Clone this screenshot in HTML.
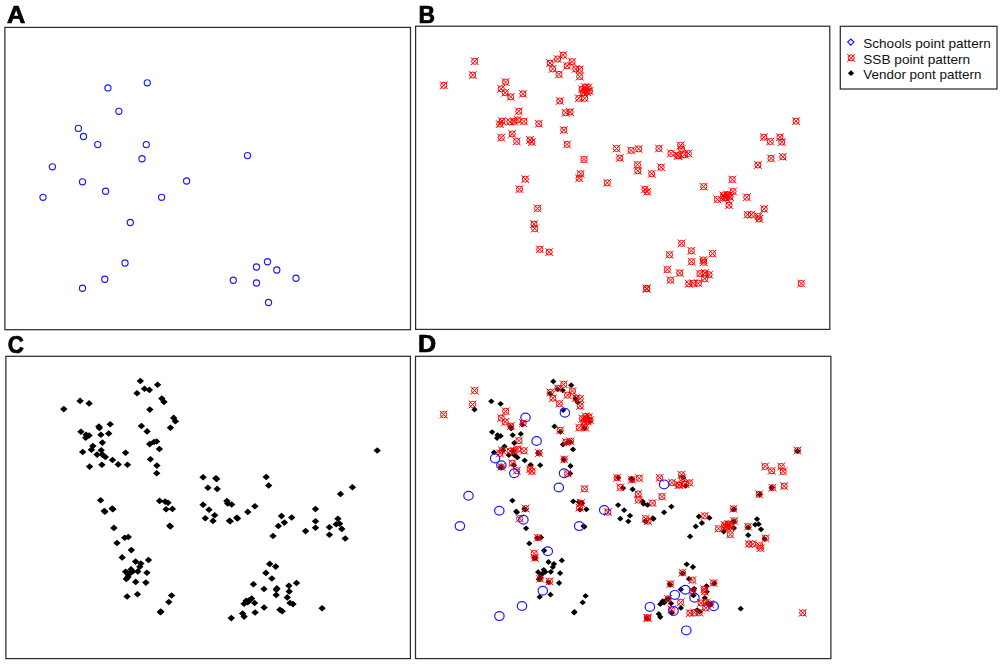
<!DOCTYPE html>
<html><head><meta charset="utf-8"><title>Point patterns</title>
<style>html,body{margin:0;padding:0;background:#fff;width:1000px;height:664px;overflow:hidden}svg{display:block}</style>
</head><body>
<svg width="1000" height="664" viewBox="0 0 1000 664">
<defs>
<g id="cs"><circle r="3.1" fill="none" stroke="#1a1aff" stroke-width="1.15"/></g>
<g id="cb"><ellipse rx="4.7" ry="4.4" fill="none" stroke="#1a1aff" stroke-width="1.2"/></g>
<g id="rx" fill="none" stroke="#ff0000" stroke-width="1"><circle r="3.05"/><path d="M-3.9-3.9L3.9 3.9M-3.9 3.9L3.9-3.9"/></g>
<path id="bd" d="M0-3.3L3.7 0L0 3.3L-3.7 0Z" fill="#000"/>
<path id="bd2" d="M0-2.9L3.15 0L0 2.9L-3.15 0Z" fill="#000"/>
</defs>
<rect width="1000" height="664" fill="#fff"/>
<g fill="none" stroke="#2e2e2e" stroke-width="1.25">
<rect x="4.9" y="27.4" width="405.6" height="302.3"/>
<rect x="415.6" y="26.2" width="414.2" height="303.2"/>
<rect x="5.9" y="356.3" width="404.5" height="302.3"/>
<rect x="415.5" y="356.3" width="415.4" height="302.3"/>
<rect x="840.3" y="26.3" width="156.7" height="62.7"/>
</g>
<g font-family="Liberation Sans, sans-serif" font-weight="bold" font-size="23.5px" fill="#000" stroke="#000" stroke-width="0.7" style="will-change:transform">
<text transform="translate(7.1 22.6) scale(1.08 1)">A</text><text transform="translate(418.4 22.6) scale(0.975 1)">B</text><text transform="translate(7.7 352.7) scale(0.95 1.04)">C</text><text transform="translate(418.1 352.4) scale(1.07 1)">D</text>
</g>
<g font-family="Liberation Sans, sans-serif" font-size="13.3px" fill="#111">
<text x="863.2" y="48.3" textLength="127.6" lengthAdjust="spacingAndGlyphs">Schools point pattern</text>
<text x="863.2" y="63.6" textLength="107" lengthAdjust="spacingAndGlyphs">SSB point pattern</text>
<text x="863.2" y="79.3" textLength="118.3" lengthAdjust="spacingAndGlyphs">Vendor pont pattern</text>
</g>
<path d="M850.8 39L853.9 42.1L850.8 45.2L847.7 42.1Z" fill="none" stroke="#1010ff" stroke-width="1.1"/>
<use href="#rx" x="851.2" y="57.9"/>
<use href="#bd2" x="851" y="73.2"/>
<g><use href="#cs" x="107.9" y="87.9"/><use href="#cs" x="147.3" y="82.8"/><use href="#cs" x="118.9" y="111.3"/><use href="#cs" x="78.4" y="128.4"/><use href="#cs" x="83.5" y="136.5"/><use href="#cs" x="97.7" y="144.6"/><use href="#cs" x="146.3" y="144.6"/><use href="#cs" x="142" y="158.7"/><use href="#cs" x="52.4" y="166.8"/><use href="#cs" x="82.5" y="181.8"/><use href="#cs" x="105.6" y="191.2"/><use href="#cs" x="186.6" y="181"/><use href="#cs" x="43" y="197.3"/><use href="#cs" x="161.6" y="197.3"/><use href="#cs" x="130.3" y="222.5"/><use href="#cs" x="125" y="263"/><use href="#cs" x="104.8" y="279.3"/><use href="#cs" x="82.5" y="288.3"/><use href="#cs" x="233.3" y="280.3"/><use href="#cs" x="256.5" y="267"/><use href="#cs" x="267.5" y="261.8"/><use href="#cs" x="276.8" y="270"/><use href="#cs" x="296" y="278.3"/><use href="#cs" x="256.5" y="283"/><use href="#cs" x="268.5" y="302.5"/><use href="#cs" x="247.5" y="155.6"/></g>
<g><use href="#rx" x="474.7" y="61.3"/><use href="#rx" x="472.7" y="75.1"/><use href="#rx" x="443.8" y="85.3"/><use href="#rx" x="505.6" y="82"/><use href="#rx" x="501.2" y="88.8"/><use href="#rx" x="505.2" y="92.7"/><use href="#rx" x="510.7" y="96.8"/><use href="#rx" x="522.9" y="93.8"/><use href="#rx" x="518.8" y="111.3"/><use href="#rx" x="499.8" y="124.1"/><use href="#rx" x="502" y="121.1"/><use href="#rx" x="509.9" y="121.8"/><use href="#rx" x="514.1" y="121.4"/><use href="#rx" x="517.5" y="119.9"/><use href="#rx" x="523.9" y="121.4"/><use href="#rx" x="538.8" y="123.7"/><use href="#rx" x="501.3" y="137.6"/><use href="#rx" x="512.2" y="133.9"/><use href="#rx" x="516.7" y="141.4"/><use href="#rx" x="529.9" y="139.9"/><use href="#rx" x="531.8" y="142.1"/><use href="#rx" x="563.3" y="55.1"/><use href="#rx" x="557.6" y="59"/><use href="#rx" x="550.1" y="63.1"/><use href="#rx" x="552.6" y="68.9"/><use href="#rx" x="559" y="74.4"/><use href="#rx" x="567.1" y="65.8"/><use href="#rx" x="572.1" y="61.7"/><use href="#rx" x="575.7" y="68.9"/><use href="#rx" x="579.7" y="69.4"/><use href="#rx" x="579.7" y="76.6"/><use href="#rx" x="585.2" y="87"/><use href="#rx" x="588.3" y="87.5"/><use href="#rx" x="582" y="89.3"/><use href="#rx" x="583.4" y="92.9"/><use href="#rx" x="587" y="92"/><use href="#rx" x="578.8" y="98.3"/><use href="#rx" x="584.7" y="98.3"/><use href="#rx" x="559.8" y="101"/><use href="#rx" x="565.6" y="112.8"/><use href="#rx" x="570.1" y="112"/><use href="#rx" x="563.8" y="130.1"/><use href="#rx" x="567.1" y="144.4"/><use href="#rx" x="584" y="159.5"/><use href="#rx" x="580.6" y="173.8"/><use href="#rx" x="579.1" y="178.3"/><use href="#rx" x="607.3" y="182.8"/><use href="#rx" x="616.5" y="148.5"/><use href="#rx" x="619.8" y="158"/><use href="#rx" x="631.1" y="150.4"/><use href="#rx" x="638.6" y="148.9"/><use href="#rx" x="637.5" y="164.7"/><use href="#rx" x="637.8" y="170.8"/><use href="#rx" x="651.7" y="173.8"/><use href="#rx" x="661.2" y="167.3"/><use href="#rx" x="658.9" y="148.5"/><use href="#rx" x="671" y="153.4"/><use href="#rx" x="677.7" y="155.7"/><use href="#rx" x="680.6" y="145.4"/><use href="#rx" x="678.6" y="155.8"/><use href="#rx" x="684.5" y="154.8"/><use href="#rx" x="688.4" y="153.5"/><use href="#rx" x="681.5" y="149"/><use href="#rx" x="644.9" y="189.4"/><use href="#rx" x="647.3" y="191.8"/><use href="#rx" x="796.1" y="121.2"/><use href="#rx" x="763.8" y="137.2"/><use href="#rx" x="770.3" y="141.5"/><use href="#rx" x="779.9" y="137.2"/><use href="#rx" x="781.8" y="142.1"/><use href="#rx" x="782.8" y="156.8"/><use href="#rx" x="771" y="158.4"/><use href="#rx" x="757.9" y="165"/><use href="#rx" x="732.3" y="179.5"/><use href="#rx" x="703.7" y="186.6"/><use href="#rx" x="733.1" y="191.5"/><use href="#rx" x="723.5" y="195.5"/><use href="#rx" x="727" y="194.5"/><use href="#rx" x="726" y="198"/><use href="#rx" x="730" y="197"/><use href="#rx" x="717.4" y="199.4"/><use href="#rx" x="729" y="205.2"/><use href="#rx" x="746.8" y="197.3"/><use href="#rx" x="747.6" y="214.7"/><use href="#rx" x="751.4" y="214.7"/><use href="#rx" x="758.4" y="216.4"/><use href="#rx" x="759.2" y="218.9"/><use href="#rx" x="764.2" y="208.9"/><use href="#rx" x="525.3" y="179.2"/><use href="#rx" x="519.5" y="189.2"/><use href="#rx" x="537.6" y="208.4"/><use href="#rx" x="534" y="224.1"/><use href="#rx" x="534.7" y="228.6"/><use href="#rx" x="539.8" y="249.4"/><use href="#rx" x="549.2" y="252.1"/><use href="#rx" x="681.6" y="243.4"/><use href="#rx" x="691.4" y="250.8"/><use href="#rx" x="669.5" y="254.7"/><use href="#rx" x="712.5" y="253.6"/><use href="#rx" x="691.6" y="261.7"/><use href="#rx" x="703.4" y="260"/><use href="#rx" x="703.7" y="262.3"/><use href="#rx" x="667.3" y="269.6"/><use href="#rx" x="679.7" y="273"/><use href="#rx" x="670.5" y="280.1"/><use href="#rx" x="700" y="273.6"/><use href="#rx" x="705.1" y="273"/><use href="#rx" x="709.1" y="274.7"/><use href="#rx" x="704.6" y="278.7"/><use href="#rx" x="688.8" y="283.8"/><use href="#rx" x="693.3" y="283.2"/><use href="#rx" x="698.4" y="283.2"/><use href="#rx" x="646.4" y="288.3"/><use href="#rx" x="801.2" y="283.5"/><use href="#rx" x="585.5" y="90"/><use href="#rx" x="589.5" y="91"/><use href="#rx" x="646.9" y="288.9"/><use href="#rx" x="724.5" y="197.5"/><use href="#rx" x="728.5" y="195.5"/></g>
<g><use href="#bd" x="63.8" y="409.1"/><use href="#bd" x="80.1" y="400.9"/><use href="#bd" x="89.1" y="403.4"/><use href="#bd" x="140.3" y="381"/><use href="#bd" x="157.6" y="384.8"/><use href="#bd" x="144.5" y="388.8"/><use href="#bd" x="149.4" y="389.9"/><use href="#bd" x="137" y="393.3"/><use href="#bd" x="161.8" y="398.6"/><use href="#bd" x="164" y="401.9"/><use href="#bd" x="149.8" y="409.6"/><use href="#bd" x="173.7" y="417.9"/><use href="#bd" x="175.4" y="421.2"/><use href="#bd" x="170.4" y="427.7"/><use href="#bd" x="141.4" y="426"/><use href="#bd" x="147.1" y="431.4"/><use href="#bd" x="153.9" y="442"/><use href="#bd" x="149.7" y="444.1"/><use href="#bd" x="156.6" y="441.5"/><use href="#bd" x="159.4" y="449"/><use href="#bd" x="150.4" y="459.3"/><use href="#bd" x="156.9" y="465.6"/><use href="#bd" x="156.7" y="473.2"/><use href="#bd" x="110.2" y="424.2"/><use href="#bd" x="98.9" y="426.5"/><use href="#bd" x="99.4" y="428"/><use href="#bd" x="80.9" y="431.7"/><use href="#bd" x="86.1" y="434.7"/><use href="#bd" x="89.1" y="435.5"/><use href="#bd" x="85.7" y="437.7"/><use href="#bd" x="100.9" y="434.7"/><use href="#bd" x="108.7" y="433.5"/><use href="#bd" x="102.4" y="442.6"/><use href="#bd" x="92.9" y="446"/><use href="#bd" x="91.4" y="449.8"/><use href="#bd" x="82.7" y="452"/><use href="#bd" x="101.2" y="450.2"/><use href="#bd" x="97.1" y="454.6"/><use href="#bd" x="102.4" y="454.6"/><use href="#bd" x="105.4" y="457"/><use href="#bd" x="112.5" y="460"/><use href="#bd" x="118.2" y="464.4"/><use href="#bd" x="125.6" y="452.8"/><use href="#bd" x="127.5" y="464.8"/><use href="#bd" x="89.6" y="466.6"/><use href="#bd" x="101.9" y="464.8"/><use href="#bd" x="100.6" y="500.2"/><use href="#bd" x="104.3" y="511"/><use href="#bd" x="112.2" y="508.6"/><use href="#bd" x="113.9" y="527.9"/><use href="#bd" x="124.7" y="537.7"/><use href="#bd" x="128.3" y="537"/><use href="#bd" x="117" y="543"/><use href="#bd" x="131.3" y="550.1"/><use href="#bd" x="122.2" y="557.4"/><use href="#bd" x="148.5" y="560"/><use href="#bd" x="135.6" y="561.6"/><use href="#bd" x="140.8" y="563.6"/><use href="#bd" x="139.8" y="566.7"/><use href="#bd" x="137.8" y="571.4"/><use href="#bd" x="131" y="569.4"/><use href="#bd" x="125.6" y="571.8"/><use href="#bd" x="128.3" y="574.8"/><use href="#bd" x="126.3" y="578.9"/><use href="#bd" x="146.9" y="572.8"/><use href="#bd" x="135.7" y="581.9"/><use href="#bd" x="145.9" y="582.6"/><use href="#bd" x="127.1" y="596.5"/><use href="#bd" x="137.5" y="594.3"/><use href="#bd" x="171.6" y="595.5"/><use href="#bd" x="168.8" y="602"/><use href="#bd" x="160.8" y="611.6"/><use href="#bd" x="159.6" y="500.9"/><use href="#bd" x="165.1" y="501.6"/><use href="#bd" x="168" y="502.8"/><use href="#bd" x="166.1" y="509.3"/><use href="#bd" x="172.4" y="508.9"/><use href="#bd" x="169.7" y="525.7"/><use href="#bd" x="203.1" y="477.3"/><use href="#bd" x="215.8" y="478.2"/><use href="#bd" x="207.9" y="487.7"/><use href="#bd" x="217.2" y="488.9"/><use href="#bd" x="266.2" y="477"/><use href="#bd" x="268.7" y="485.5"/><use href="#bd" x="352.4" y="487.2"/><use href="#bd" x="340.5" y="494"/><use href="#bd" x="203.1" y="504.7"/><use href="#bd" x="209" y="509.8"/><use href="#bd" x="226.9" y="501.1"/><use href="#bd" x="227.7" y="503.4"/><use href="#bd" x="231.7" y="504.5"/><use href="#bd" x="214.7" y="515.3"/><use href="#bd" x="205.3" y="518.3"/><use href="#bd" x="213" y="520.9"/><use href="#bd" x="229.4" y="520.7"/><use href="#bd" x="236.8" y="517.8"/><use href="#bd" x="247.8" y="511.9"/><use href="#bd" x="254.9" y="506.2"/><use href="#bd" x="281.5" y="516.1"/><use href="#bd" x="291.7" y="517.5"/><use href="#bd" x="284.4" y="522.6"/><use href="#bd" x="278.4" y="526"/><use href="#bd" x="273" y="536"/><use href="#bd" x="315.5" y="509"/><use href="#bd" x="315.5" y="521.2"/><use href="#bd" x="315.5" y="527.7"/><use href="#bd" x="305.6" y="531.1"/><use href="#bd" x="329.4" y="527.2"/><use href="#bd" x="337.9" y="518.7"/><use href="#bd" x="336.2" y="524.3"/><use href="#bd" x="339.6" y="523.8"/><use href="#bd" x="341.8" y="528.9"/><use href="#bd" x="329.4" y="534.8"/><use href="#bd" x="345.2" y="538.5"/><use href="#bd" x="269.7" y="563.9"/><use href="#bd" x="275.7" y="566.6"/><use href="#bd" x="265.9" y="572.9"/><use href="#bd" x="271.9" y="578.5"/><use href="#bd" x="253.4" y="584.2"/><use href="#bd" x="264" y="589"/><use href="#bd" x="276.9" y="588.4"/><use href="#bd" x="276.2" y="595"/><use href="#bd" x="288.9" y="585.7"/><use href="#bd" x="296.5" y="583"/><use href="#bd" x="289.2" y="591.4"/><use href="#bd" x="287.3" y="597.4"/><use href="#bd" x="290" y="603"/><use href="#bd" x="293" y="604.1"/><use href="#bd" x="264.1" y="607.5"/><use href="#bd" x="279.9" y="609.8"/><use href="#bd" x="282.2" y="611.3"/><use href="#bd" x="322.1" y="608.3"/><use href="#bd" x="251.6" y="598.5"/><use href="#bd" x="246.3" y="600.8"/><use href="#bd" x="244.1" y="603.8"/><use href="#bd" x="254.6" y="603"/><use href="#bd" x="247.8" y="602.3"/><use href="#bd" x="255.1" y="612.5"/><use href="#bd" x="242.6" y="613.5"/><use href="#bd" x="244.1" y="616.6"/><use href="#bd" x="231.3" y="618.1"/><use href="#bd" x="377.2" y="450.5"/><use href="#bd" x="129.5" y="573.5"/><use href="#bd" x="132.5" y="571.5"/><use href="#bd" x="128" y="577"/><use href="#bd" x="249" y="600.5"/><use href="#bd" x="276.3" y="589.8"/><use href="#bd" x="216.6" y="478.9"/><use href="#bd" x="170.4" y="526.4"/><use href="#bd" x="160.4" y="612.2"/><use href="#bd" x="230.2" y="521.2"/><use href="#bd" x="237.5" y="518.4"/><use href="#bd" x="104.9" y="511.8"/><use href="#bd" x="112.9" y="509.2"/></g>
<g><use href="#bd2" x="474.5" y="409.5"/><use href="#bd2" x="491.3" y="401.3"/><use href="#bd2" x="500.6" y="403.8"/><use href="#bd2" x="553.3" y="381.4"/><use href="#bd2" x="571.2" y="385.2"/><use href="#bd2" x="557.7" y="389.2"/><use href="#bd2" x="562.7" y="390.3"/><use href="#bd2" x="549.9" y="393.7"/><use href="#bd2" x="575.5" y="399"/><use href="#bd2" x="577.8" y="402.3"/><use href="#bd2" x="563.1" y="410"/><use href="#bd2" x="587.8" y="418.3"/><use href="#bd2" x="589.5" y="421.6"/><use href="#bd2" x="584.4" y="428.1"/><use href="#bd2" x="554.5" y="426.4"/><use href="#bd2" x="560.4" y="431.8"/><use href="#bd2" x="567.4" y="442.4"/><use href="#bd2" x="563" y="444.5"/><use href="#bd2" x="570.1" y="441.9"/><use href="#bd2" x="573" y="449.4"/><use href="#bd2" x="563.8" y="459.7"/><use href="#bd2" x="570.5" y="466"/><use href="#bd2" x="570.2" y="473.6"/><use href="#bd2" x="522.3" y="424.6"/><use href="#bd2" x="510.7" y="426.9"/><use href="#bd2" x="511.2" y="428.4"/><use href="#bd2" x="492.1" y="432.1"/><use href="#bd2" x="497.5" y="435.1"/><use href="#bd2" x="500.6" y="435.9"/><use href="#bd2" x="497.1" y="438.1"/><use href="#bd2" x="512.7" y="435.1"/><use href="#bd2" x="520.8" y="433.9"/><use href="#bd2" x="514.3" y="443"/><use href="#bd2" x="504.5" y="446.4"/><use href="#bd2" x="502.9" y="450.2"/><use href="#bd2" x="494" y="452.4"/><use href="#bd2" x="513" y="450.6"/><use href="#bd2" x="508.8" y="455"/><use href="#bd2" x="514.3" y="455"/><use href="#bd2" x="517.4" y="457.4"/><use href="#bd2" x="524.7" y="460.4"/><use href="#bd2" x="530.6" y="464.8"/><use href="#bd2" x="538.2" y="453.2"/><use href="#bd2" x="540.2" y="465.2"/><use href="#bd2" x="501.1" y="467"/><use href="#bd2" x="513.8" y="465.2"/><use href="#bd2" x="512.4" y="500.6"/><use href="#bd2" x="516.2" y="511.4"/><use href="#bd2" x="524.4" y="509"/><use href="#bd2" x="526.1" y="528.3"/><use href="#bd2" x="537.3" y="538.1"/><use href="#bd2" x="541" y="537.4"/><use href="#bd2" x="529.3" y="543.4"/><use href="#bd2" x="544.1" y="550.5"/><use href="#bd2" x="534.7" y="557.8"/><use href="#bd2" x="561.8" y="560.4"/><use href="#bd2" x="548.5" y="562"/><use href="#bd2" x="553.9" y="564"/><use href="#bd2" x="552.8" y="567.1"/><use href="#bd2" x="550.8" y="571.8"/><use href="#bd2" x="543.8" y="569.8"/><use href="#bd2" x="538.2" y="572.2"/><use href="#bd2" x="541" y="575.2"/><use href="#bd2" x="538.9" y="579.3"/><use href="#bd2" x="560.1" y="573.2"/><use href="#bd2" x="548.6" y="582.3"/><use href="#bd2" x="559.1" y="583"/><use href="#bd2" x="539.7" y="596.9"/><use href="#bd2" x="550.5" y="594.7"/><use href="#bd2" x="585.6" y="595.9"/><use href="#bd2" x="582.7" y="602.4"/><use href="#bd2" x="574.5" y="612"/><use href="#bd2" x="573.2" y="501.3"/><use href="#bd2" x="578.9" y="502"/><use href="#bd2" x="581.9" y="503.2"/><use href="#bd2" x="579.9" y="509.7"/><use href="#bd2" x="586.4" y="509.3"/><use href="#bd2" x="583.6" y="526.1"/><use href="#bd2" x="618.1" y="477.7"/><use href="#bd2" x="631.2" y="478.6"/><use href="#bd2" x="623" y="488.1"/><use href="#bd2" x="632.6" y="489.3"/><use href="#bd2" x="683.1" y="477.4"/><use href="#bd2" x="685.7" y="485.9"/><use href="#bd2" x="771.9" y="487.6"/><use href="#bd2" x="759.7" y="494.4"/><use href="#bd2" x="618.1" y="505.1"/><use href="#bd2" x="624.1" y="510.2"/><use href="#bd2" x="642.6" y="501.5"/><use href="#bd2" x="643.4" y="503.8"/><use href="#bd2" x="647.5" y="504.9"/><use href="#bd2" x="630" y="515.7"/><use href="#bd2" x="620.3" y="518.7"/><use href="#bd2" x="628.3" y="521.3"/><use href="#bd2" x="645.2" y="521.1"/><use href="#bd2" x="652.8" y="518.2"/><use href="#bd2" x="664.1" y="512.3"/><use href="#bd2" x="671.4" y="506.6"/><use href="#bd2" x="698.9" y="516.5"/><use href="#bd2" x="709.4" y="517.9"/><use href="#bd2" x="701.9" y="523"/><use href="#bd2" x="695.7" y="526.4"/><use href="#bd2" x="690.1" y="536.4"/><use href="#bd2" x="733.9" y="509.4"/><use href="#bd2" x="733.9" y="521.6"/><use href="#bd2" x="733.9" y="528.1"/><use href="#bd2" x="723.7" y="531.5"/><use href="#bd2" x="748.2" y="527.6"/><use href="#bd2" x="757" y="519.1"/><use href="#bd2" x="755.2" y="524.7"/><use href="#bd2" x="758.7" y="524.2"/><use href="#bd2" x="761" y="529.3"/><use href="#bd2" x="748.2" y="535.2"/><use href="#bd2" x="764.5" y="538.9"/><use href="#bd2" x="686.7" y="564.3"/><use href="#bd2" x="692.9" y="567"/><use href="#bd2" x="682.8" y="573.3"/><use href="#bd2" x="689" y="578.9"/><use href="#bd2" x="669.9" y="584.6"/><use href="#bd2" x="680.8" y="589.4"/><use href="#bd2" x="694.1" y="588.8"/><use href="#bd2" x="693.4" y="595.4"/><use href="#bd2" x="706.5" y="586.1"/><use href="#bd2" x="714.3" y="583.4"/><use href="#bd2" x="706.8" y="591.8"/><use href="#bd2" x="704.8" y="597.8"/><use href="#bd2" x="707.6" y="603.4"/><use href="#bd2" x="710.7" y="604.5"/><use href="#bd2" x="680.9" y="607.9"/><use href="#bd2" x="697.2" y="610.2"/><use href="#bd2" x="699.6" y="611.7"/><use href="#bd2" x="740.7" y="608.7"/><use href="#bd2" x="668" y="598.9"/><use href="#bd2" x="662.6" y="601.2"/><use href="#bd2" x="660.3" y="604.2"/><use href="#bd2" x="671.1" y="603.4"/><use href="#bd2" x="664.1" y="602.7"/><use href="#bd2" x="671.7" y="612.9"/><use href="#bd2" x="658.8" y="613.9"/><use href="#bd2" x="660.3" y="617"/><use href="#bd2" x="647.1" y="618.5"/><use href="#bd2" x="797.5" y="450.9"/><use href="#bd2" x="542.2" y="573.9"/><use href="#bd2" x="545.3" y="571.9"/><use href="#bd2" x="540.7" y="577.4"/><use href="#bd2" x="665.4" y="600.9"/><use href="#bd2" x="693.5" y="590.2"/><use href="#bd2" x="632" y="479.3"/><use href="#bd2" x="584.4" y="526.8"/><use href="#bd2" x="574.1" y="612.6"/><use href="#bd2" x="646" y="521.6"/><use href="#bd2" x="653.5" y="518.8"/><use href="#bd2" x="516.9" y="512.2"/><use href="#bd2" x="525.1" y="509.6"/></g>
<g><use href="#rx" x="474.6" y="390.6"/><use href="#rx" x="472.6" y="404.4"/><use href="#rx" x="443.6" y="414.6"/><use href="#rx" x="505.7" y="411.3"/><use href="#rx" x="501.3" y="418.1"/><use href="#rx" x="505.3" y="422"/><use href="#rx" x="510.8" y="426.1"/><use href="#rx" x="523.1" y="423.1"/><use href="#rx" x="519" y="440.6"/><use href="#rx" x="499.9" y="453.4"/><use href="#rx" x="502.1" y="450.4"/><use href="#rx" x="510" y="451.1"/><use href="#rx" x="514.2" y="450.7"/><use href="#rx" x="517.7" y="449.2"/><use href="#rx" x="524.1" y="450.7"/><use href="#rx" x="539.1" y="453"/><use href="#rx" x="501.4" y="466.9"/><use href="#rx" x="512.3" y="463.2"/><use href="#rx" x="516.8" y="470.7"/><use href="#rx" x="530.1" y="469.2"/><use href="#rx" x="532" y="471.4"/><use href="#rx" x="563.7" y="384.4"/><use href="#rx" x="557.9" y="388.3"/><use href="#rx" x="550.4" y="392.4"/><use href="#rx" x="552.9" y="398.2"/><use href="#rx" x="559.4" y="403.7"/><use href="#rx" x="567.5" y="395.1"/><use href="#rx" x="572.5" y="391"/><use href="#rx" x="576.1" y="398.2"/><use href="#rx" x="580.2" y="398.7"/><use href="#rx" x="580.2" y="405.9"/><use href="#rx" x="585.7" y="416.3"/><use href="#rx" x="588.8" y="416.8"/><use href="#rx" x="582.5" y="418.6"/><use href="#rx" x="583.9" y="422.2"/><use href="#rx" x="587.5" y="421.3"/><use href="#rx" x="579.2" y="427.6"/><use href="#rx" x="585.2" y="427.6"/><use href="#rx" x="560.2" y="430.3"/><use href="#rx" x="566" y="442.1"/><use href="#rx" x="570.5" y="441.3"/><use href="#rx" x="564.2" y="459.4"/><use href="#rx" x="567.5" y="473.7"/><use href="#rx" x="584.5" y="488.8"/><use href="#rx" x="581.1" y="503.1"/><use href="#rx" x="579.5" y="507.6"/><use href="#rx" x="607.9" y="512.1"/><use href="#rx" x="617.1" y="477.8"/><use href="#rx" x="620.4" y="487.3"/><use href="#rx" x="631.8" y="479.7"/><use href="#rx" x="639.3" y="478.2"/><use href="#rx" x="638.2" y="494"/><use href="#rx" x="638.5" y="500.1"/><use href="#rx" x="652.5" y="503.1"/><use href="#rx" x="662" y="496.6"/><use href="#rx" x="659.7" y="477.8"/><use href="#rx" x="671.9" y="482.7"/><use href="#rx" x="678.6" y="485"/><use href="#rx" x="681.5" y="474.7"/><use href="#rx" x="679.5" y="485.1"/><use href="#rx" x="685.5" y="484.1"/><use href="#rx" x="689.4" y="482.8"/><use href="#rx" x="682.4" y="478.3"/><use href="#rx" x="645.7" y="518.7"/><use href="#rx" x="648.1" y="521.1"/><use href="#rx" x="797.6" y="450.5"/><use href="#rx" x="765.1" y="466.5"/><use href="#rx" x="771.7" y="470.8"/><use href="#rx" x="781.3" y="466.5"/><use href="#rx" x="783.2" y="471.4"/><use href="#rx" x="784.2" y="486.1"/><use href="#rx" x="772.4" y="487.7"/><use href="#rx" x="759.2" y="494.3"/><use href="#rx" x="733.5" y="508.8"/><use href="#rx" x="704.7" y="515.9"/><use href="#rx" x="734.3" y="520.8"/><use href="#rx" x="724.6" y="524.8"/><use href="#rx" x="728.2" y="523.8"/><use href="#rx" x="727.2" y="527.3"/><use href="#rx" x="731.2" y="526.3"/><use href="#rx" x="718.5" y="528.7"/><use href="#rx" x="730.2" y="534.5"/><use href="#rx" x="748.1" y="526.6"/><use href="#rx" x="748.9" y="544"/><use href="#rx" x="752.7" y="544"/><use href="#rx" x="759.7" y="545.7"/><use href="#rx" x="760.5" y="548.2"/><use href="#rx" x="765.5" y="538.2"/><use href="#rx" x="525.5" y="508.5"/><use href="#rx" x="519.7" y="518.5"/><use href="#rx" x="537.9" y="537.7"/><use href="#rx" x="534.2" y="553.4"/><use href="#rx" x="534.9" y="557.9"/><use href="#rx" x="540.1" y="578.7"/><use href="#rx" x="549.5" y="581.4"/><use href="#rx" x="682.5" y="572.7"/><use href="#rx" x="692.4" y="580.1"/><use href="#rx" x="670.4" y="584"/><use href="#rx" x="713.6" y="582.9"/><use href="#rx" x="692.6" y="591"/><use href="#rx" x="704.4" y="589.3"/><use href="#rx" x="704.7" y="591.6"/><use href="#rx" x="668.2" y="598.9"/><use href="#rx" x="680.6" y="602.3"/><use href="#rx" x="671.4" y="609.4"/><use href="#rx" x="701" y="602.9"/><use href="#rx" x="706.2" y="602.3"/><use href="#rx" x="710.2" y="604"/><use href="#rx" x="705.7" y="608"/><use href="#rx" x="689.8" y="613.1"/><use href="#rx" x="694.3" y="612.5"/><use href="#rx" x="699.4" y="612.5"/><use href="#rx" x="647.2" y="617.6"/><use href="#rx" x="802.7" y="612.8"/><use href="#rx" x="586" y="419.3"/><use href="#rx" x="590" y="420.3"/><use href="#rx" x="647.7" y="618.2"/><use href="#rx" x="725.6" y="526.8"/><use href="#rx" x="729.7" y="524.8"/></g>
<g><use href="#cb" x="525.5" y="417.5"/><use href="#cb" x="564.9" y="412.7"/><use href="#cb" x="536.6" y="441"/><use href="#cb" x="495.1" y="458.4"/><use href="#cb" x="501.4" y="465.3"/><use href="#cb" x="514.3" y="473.3"/><use href="#cb" x="564" y="473.3"/><use href="#cb" x="558.8" y="487.5"/><use href="#cb" x="468.5" y="495.8"/><use href="#cb" x="499.3" y="510.8"/><use href="#cb" x="523.4" y="519.8"/><use href="#cb" x="604.2" y="510"/><use href="#cb" x="459.9" y="526.1"/><use href="#cb" x="579.2" y="526.1"/><use href="#cb" x="547.8" y="551.3"/><use href="#cb" x="542.8" y="590.8"/><use href="#cb" x="522" y="606"/><use href="#cb" x="499.4" y="616.1"/><use href="#cb" x="649.9" y="606.9"/><use href="#cb" x="674.8" y="594.9"/><use href="#cb" x="685.4" y="589.8"/><use href="#cb" x="694.5" y="597.8"/><use href="#cb" x="713.7" y="606.2"/><use href="#cb" x="673.5" y="611"/><use href="#cb" x="686.3" y="630.4"/><use href="#cb" x="664.1" y="484.4"/></g>
</svg>
</body></html>
